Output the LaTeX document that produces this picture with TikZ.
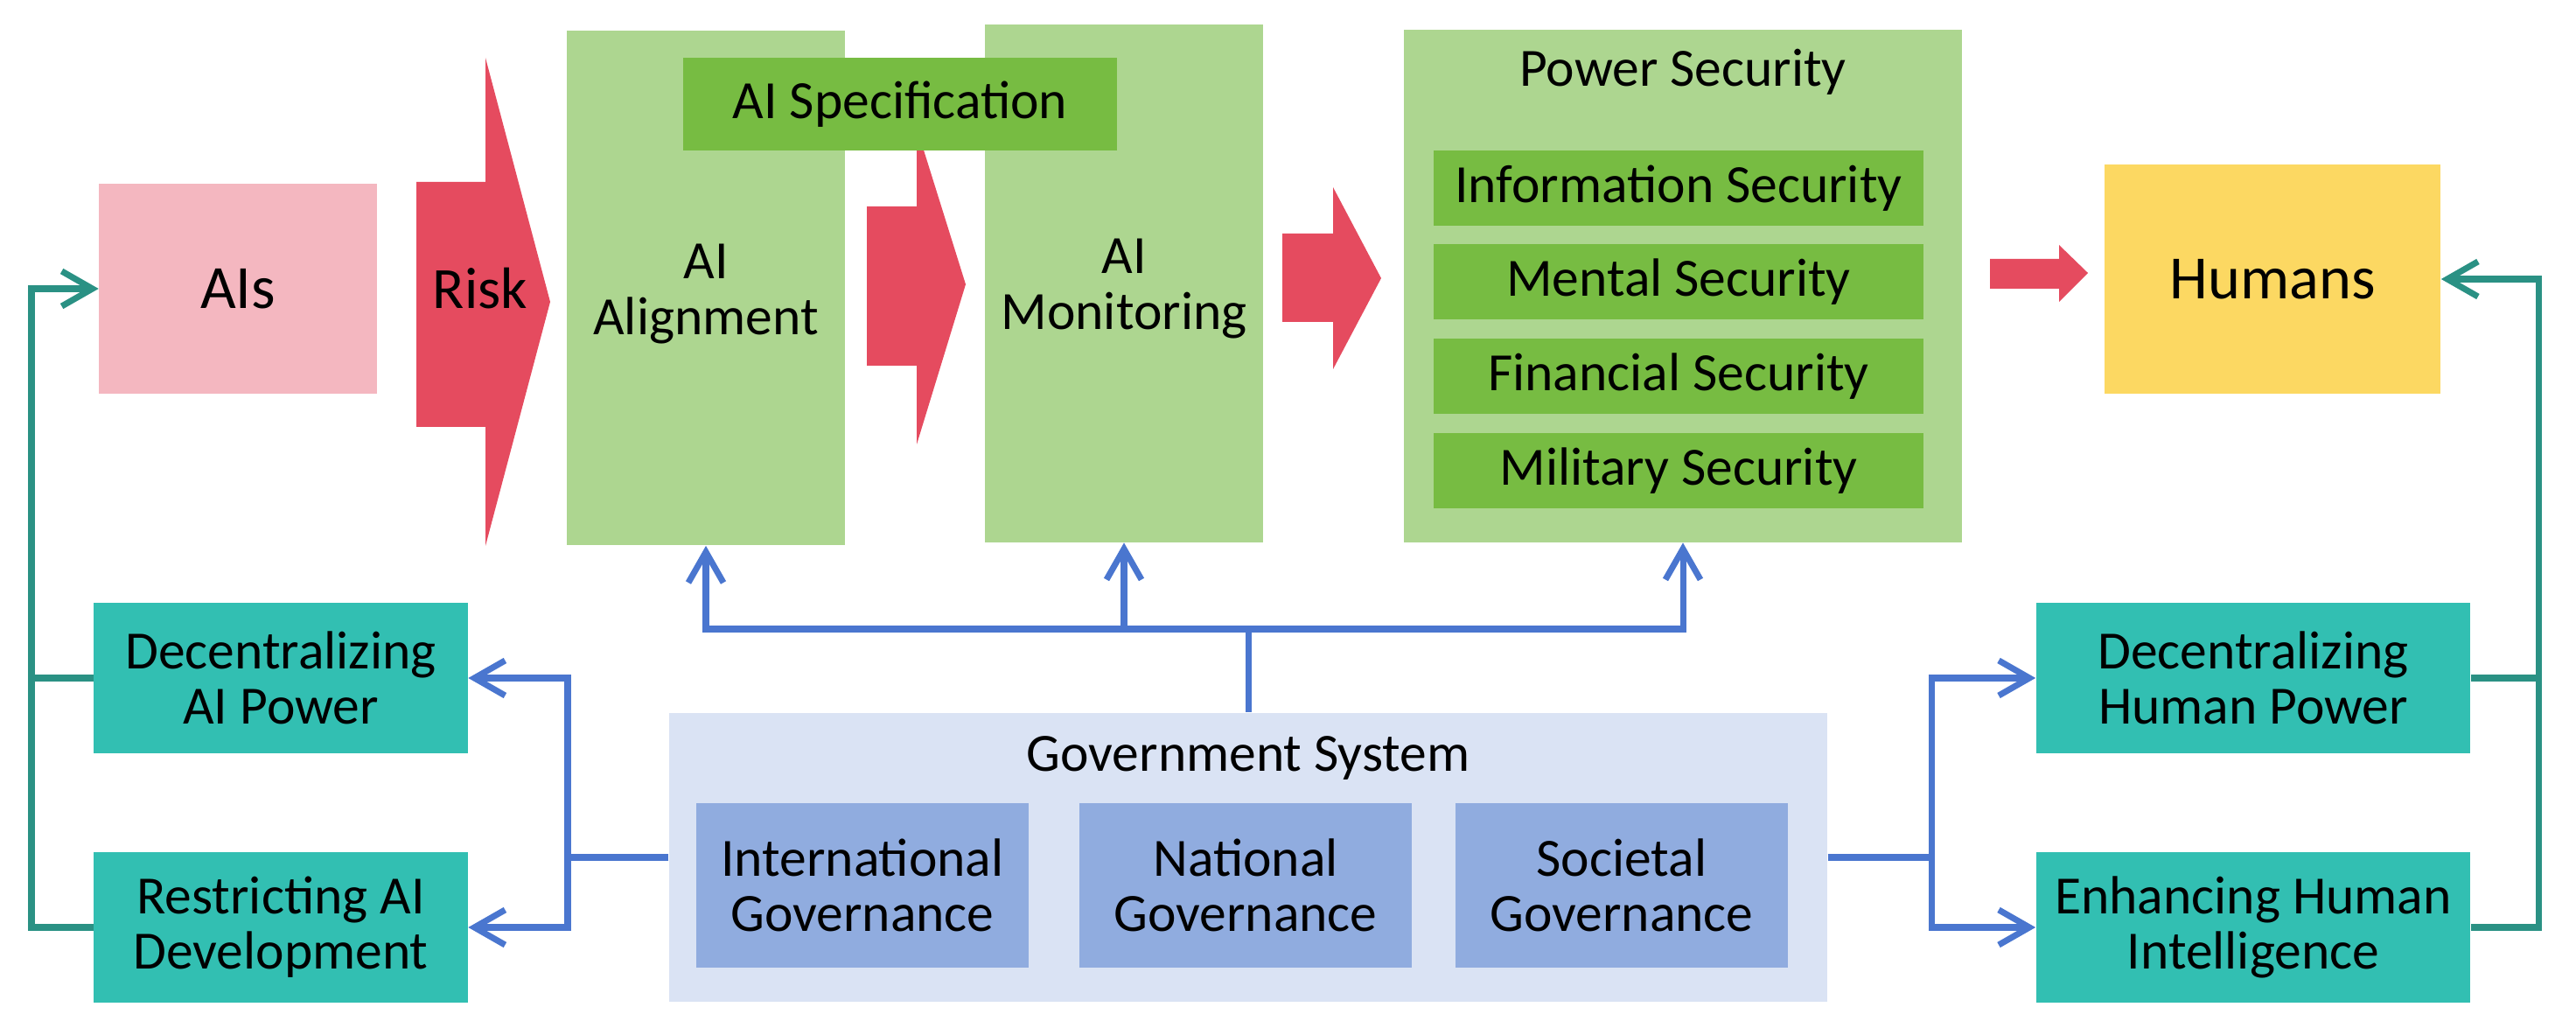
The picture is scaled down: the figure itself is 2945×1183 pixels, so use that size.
\documentclass[tikz,border=0pt]{standalone}
\usepackage{fontspec}
\setmainfont{Carlito}
\usepackage{tikz}
\usetikzlibrary{arrows.meta,calc}
\definecolor{AIPink}{HTML}{F4B7C0}
\definecolor{RiskRed}{HTML}{E54B5F}
\definecolor{StageGreen}{HTML}{ADD690}
\definecolor{ItemGreen}{HTML}{77BC42}
\definecolor{HumanGold}{HTML}{FCD862}
\definecolor{ActTeal}{HTML}{32BFB2}
\definecolor{TealLine}{HTML}{2A9184}
\definecolor{GovBack}{HTML}{DAE3F4}
\definecolor{GovSub}{HTML}{90ACDF}
\definecolor{BlueLine}{HTML}{4A76CF}

\begin{document}
\begin{tikzpicture}[x=0.01cm, y=-0.01cm,
  base/.style={inner sep=0pt, align=center, font=\fontsize{17.5}{18}\selectfont},
  endbox/.style={base, font=\fontsize{20}{22}\selectfont},
  stage/.style={base, fill=StageGreen, minimum width=3.17cm},
  item/.style={base, fill=ItemGreen, minimum width=5.6cm, minimum height=0.86cm},
  act/.style={base, fill=ActTeal, minimum height=1.72cm},
  sub/.style={base, fill=GovSub, minimum width=3.79cm, minimum height=1.87cm},
  feed/.style={draw=BlueLine, line width=2pt, -{Straight Barb[length=3.5mm,width=4mm]}},
  back/.style={draw=TealLine, line width=2pt, -{Straight Barb[length=3.5mm,width=4mm]}},
  backline/.style={draw=TealLine, line width=2pt}]
\useasboundingbox (0,0) rectangle (2945,1183);
% top row
\node[endbox, fill=AIPink, minimum width=3.17cm, minimum height=2.39cm] (ais) at (272,330) {AIs};
\fill[RiskRed] (476,208) -- (555,208) -- (555,66) -- (629,345) -- (555,624) -- (555,488) -- (476,488) -- cycle;
\node[base, font=\fontsize{19}{20}\selectfont] (risk) at (549,330) {Risk};
\node[stage, minimum height=5.88cm] (align) at (807,329) {};
\node[base] (alignt) at (807,336) {AI\\Alignment};
\node[stage, minimum height=5.91cm] (monit) at (1285,324) {};
\node[base] (monitt) at (1285,330) {AI\\Monitoring};
\fill[RiskRed] (991,236) -- (1048,236) -- (1048,146) -- (1104,325) -- (1048,508) -- (1048,418) -- (991,418) -- cycle;
\node[base, fill=ItemGreen, minimum width=4.96cm, minimum height=1.06cm] (spec) at (1029,119) {AI Specification};
\fill[RiskRed] (1466,267) -- (1524,267) -- (1524,214) -- (1579,318) -- (1524,422) -- (1524,368) -- (1466,368) -- cycle;
\node[base, fill=StageGreen, minimum width=6.38cm, minimum height=5.85cm] (power) at (1924,327) {};
\node[base] (powert) at (1924,82) {Power Security};
\node[item] (info) at (1919,215) {Information Security};
\node[item] (mental) at (1919,322) {Mental Security};
\node[item] (fin) at (1919,430) {Financial Security};
\node[item] (mil) at (1919,538) {Military Security};
\fill[RiskRed] (2275,296) -- (2354,296) -- (2354,280) -- (2387,312) -- (2354,345) -- (2354,330) -- (2275,330) -- cycle;
\node[endbox, fill=HumanGold, minimum width=3.84cm, minimum height=2.61cm] (humans) at (2598,319) {Humans};
% bottom row
\node[act, minimum width=4.27cm] (decai) at (321,775) {Decentralizing\\AI Power};
\node[act, minimum width=4.27cm] (restr) at (321,1060) {Restricting AI\\Development};
\node[base, fill=GovBack, minimum width=13.23cm, minimum height=3.3cm] (gov) at (1427,980) {};
\node[base] (govt) at (1427,866) {Government System};
\node[sub] (intl) at (986,1012) {International\\Governance};
\node[sub] (natl) at (1424,1012) {National\\Governance};
\node[sub] (soc) at (1854,1012) {Societal\\Governance};
\node[act, minimum width=4.96cm] (dechum) at (2576,775) {Decentralizing\\Human Power};
\node[act, minimum width=4.96cm] (enh) at (2576,1060) {Enhancing Human\\Intelligence};
% connectors
\coordinate (hub) at (1427,719);
\draw[feed] (gov.north) -- (hub) -| (align.south);
\draw[feed] (hub) -| (monit.south);
\draw[feed] (hub) -| (power.south);
\coordinate (lhub) at (649,980);
\draw[feed] (gov.west) -- (lhub) |- (decai.east);
\draw[feed] (lhub) |- (restr.east);
\coordinate (rhub) at (2208,980);
\draw[feed] (gov.east) -- (rhub) |- (dechum.west);
\draw[feed] (rhub) |- (enh.west);
\coordinate (lbus) at (36,1060);
\draw[back] (restr.west) -- (lbus) |- (ais.west);
\draw[backline] (decai.west) -- (decai.west -| lbus);
\coordinate (rbus) at (2902,1060);
\draw[back] (enh.east) -- (rbus) |- (humans.east);
\draw[backline] (dechum.east) -- (dechum.east -| rbus);
\end{tikzpicture}
\end{document}
